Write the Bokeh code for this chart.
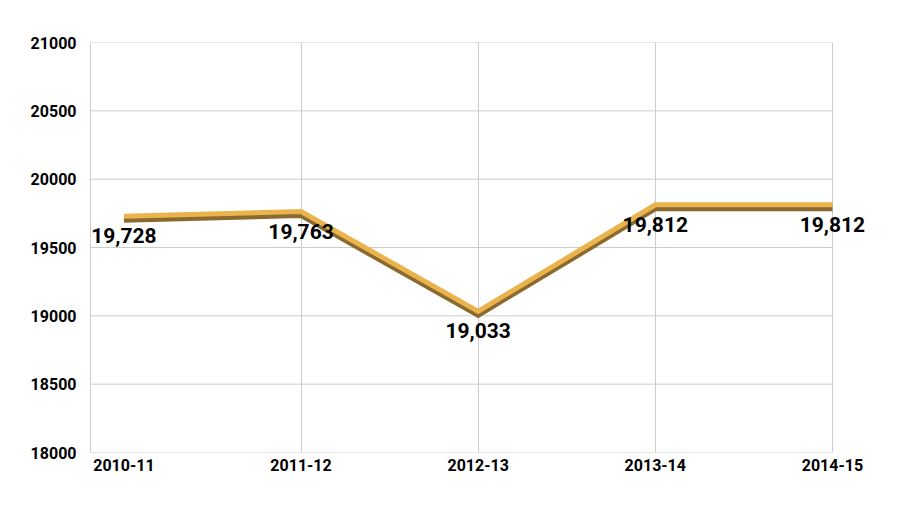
from bokeh.plotting import figure
from bokeh.models import ColumnDataSource, FixedTicker, Range1d, Label, BasicTickFormatter
from bokeh.embed import file_html
from bokeh.resources import INLINE

# ---- data ----
years = ["2010-11", "2011-12", "2012-13", "2013-14", "2014-15"]
students = [19728, 19763, 19033, 19812, 19812]
y_ticks = [18000, 18500, 19000, 19500, 20000, 20500, 21000]

xs = list(range(len(years)))
labels = [f"{v:,}" for v in students]
src = ColumnDataSource(dict(x=xs, y=students, label=labels))

FONT = "Roboto"
GRID = "#cccccc"
X_START = -0.2     # frame left
EDGE = -0.19       # left border line of the chart wall
X_END = 4.294      # frame right (room for the last data label)

p = figure(width=884, height=512, output_backend="svg", toolbar_location=None,
           x_range=Range1d(X_START, X_END), y_range=Range1d(18000, 21000),
           min_border_left=88, min_border_right=0, min_border_top=42,
           min_border_bottom=60)
p.background_fill_color = "white"
p.border_fill_color = "white"
p.outline_line_color = None

# grids: vertical lines at the wall edge and categories 1..4
p.xgrid.ticker = FixedTicker(ticks=[EDGE] + xs[1:])
p.xgrid.grid_line_color = GRID
p.ygrid.grid_line_color = None
# horizontal grid lines, stopping at the last category
p.segment(x0=[EDGE] * len(y_ticks), x1=[xs[-1]] * len(y_ticks),
          y0=y_ticks, y1=y_ticks, line_color=GRID, line_width=1)

# axes
p.xaxis.ticker = FixedTicker(ticks=xs)
p.xaxis.major_label_overrides = {i: y for i, y in enumerate(years)}
p.yaxis.ticker = FixedTicker(ticks=y_ticks)
p.yaxis.formatter = BasicTickFormatter(use_scientific=False)
for ax in (p.xaxis, p.yaxis):
    ax.axis_line_color = None
    ax.major_tick_line_color = None
    ax.minor_tick_line_color = None
    ax.major_label_text_font = FONT
    ax.major_label_text_font_style = "bold"
    ax.major_label_text_font_size = "16px"
    ax.major_label_text_color = "black"
p.xaxis.major_label_standoff = 0
p.yaxis.major_label_standoff = 6

# 3D-looking ribbon: darker lower face drawn on a slightly shifted range
p.extra_y_ranges = {"shadow": Range1d(18000 + 25, 21000 + 25)}
p.line("x", "y", source=src, y_range_name="shadow", line_width=6,
       line_color="#8a6a30", line_join="miter")
p.line("x", "y", source=src, line_width=5, line_color="#eab34c", line_join="miter")

# data labels
for xv, yv, t in zip(xs, students, labels):
    p.add_layout(Label(x=xv, y=yv, text=t, text_align="center",
                       text_baseline="top", y_offset=-12, text_font=FONT,
                       text_font_style="bold", text_font_size="21px",
                       text_color="black"))

open("out.html", "w").write(file_html(p, INLINE))
